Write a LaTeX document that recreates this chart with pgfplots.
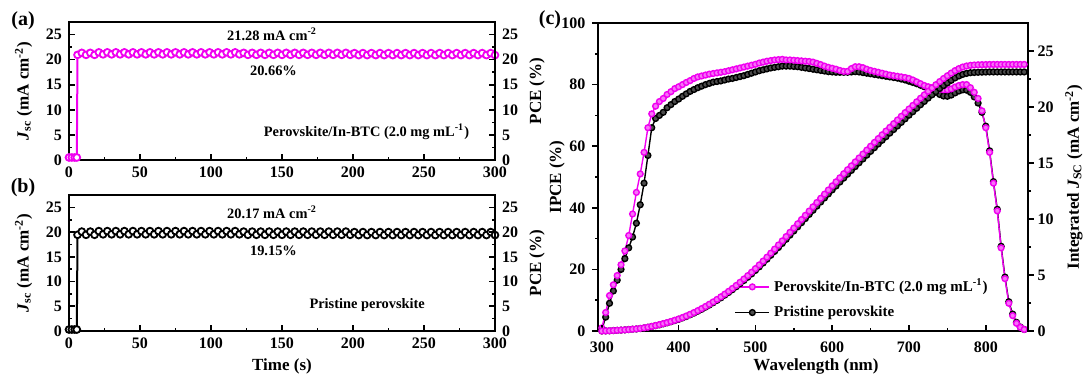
\documentclass[border=0pt]{standalone}
\usepackage{fontspec}
\setmainfont{Liberation Serif}
\usepackage{pgfplots}
\pgfplotsset{compat=1.18}
\definecolor{mag}{RGB}{240,0,240}
\pgfplotsset{
  mybase/.style={
    scale only axis,
    /pgf/number format/assume math mode=true,
    tick label style={font=\fontsize{8}{9}\selectfont\bfseries},
    label style={font=\fontsize{8.5}{10}\selectfont\bfseries},
    axis line style={line width=0.9pt},
    tick style={black, line width=0.8pt},
    major tick length=2.8pt,
    minor tick length=1.5pt,
  },
  jplot/.style={line width=1pt, mark=*, mark size=1.7pt, mark options={fill=white, line width=0.9pt}},
  cplot/.style={line width=0.7pt, mark=*, mark size=1.45pt},
}
\tikzset{annot/.style={font=\fontsize{7.2}{8}\selectfont\bfseries},
  lab/.style={font=\fontsize{8.5}{10}\selectfont\bfseries}}
\begin{document}
\begin{tikzpicture}
\useasboundingbox (0,0) rectangle (541.5pt,188pt);
% ---------------- panel (a)
\begin{axis}[mybase, at={(34.5pt,108pt)}, anchor=south west, width=213pt, height=69pt,
  xmin=0, xmax=300, ymin=0, ymax=27.5,
  xtick={0,50,...,300}, minor x tick num=1,
  ytick={0,5,...,25}, minor y tick num=1,
  xtick pos=bottom, ytick pos=left, tick align=inside,
  ylabel={\textit{J}\textsubscript{sc} (mA cm\textsuperscript{-2})}]
\addplot[jplot, color=mag] coordinates {
(0,0.5) (2,0.5) (4,0.5) (5.5,0.5) (6,20.95) (9,21.35) (12,20.95) (15,21.35) (18,20.95) (21,21.45) (24,21.05) (27,21.45) (30,21.05) (33,21.45) (36,21.05) (39,21.45) (42,21.05) (45,21.45) (48,21.05) (51,21.45) (54,21.05) (57,21.45) (60,21.05) (63,21.45) (66,21.05) (69,21.45) (72,21.05) (75,21.45) (78,21.05) (81,21.45) (84,21.05) (87,21.45) (90,21.05) (93,21.45) (96,21.05) (99,21.45) (102,21.05) (105,21.45) (108,21.05) (111,21.45) (114,21.05) (117,21.45) (120,21.05) (123,21.35) (126,20.95) (129,21.35) (132,20.95) (135,21.35) (138,20.95) (141,21.35) (144,20.95) (147,21.35) (150,20.95) (153,21.35) (156,20.95) (159,21.35) (162,20.95) (165,21.35) (168,20.95) (171,21.35) (174,20.95) (177,21.35) (180,20.95) (183,21.35) (186,20.95) (189,21.35) (192,20.95) (195,21.35) (198,20.95) (201,21.3) (204,20.9) (207,21.3) (210,20.9) (213,21.3) (216,20.9) (219,21.3) (222,20.9) (225,21.3) (228,20.9) (231,21.3) (234,20.9) (237,21.3) (240,20.9) (243,21.3) (246,20.9) (249,21.3) (252,20.9) (255,21.3) (258,20.9) (261,21.3) (264,20.9) (267,21.3) (270,20.9) (273,21.3) (276,20.9) (279,21.3) (282,20.9) (285,21.3) (288,20.9) (291,21.3) (294,20.9) (297,21.3) (300,20.9)
};
\node[annot] at (axis cs:143,25) {21.28 mA cm\textsuperscript{-2}};
\node[annot] at (axis cs:144,17.8) {20.66\%};
\node[annot] at (axis cs:209.5,5.6) {Perovskite/In-BTC (2.0 mg mL\textsuperscript{-1})};
\end{axis}
\begin{axis}[mybase, at={(34.5pt,108pt)}, anchor=south west, width=213pt, height=69pt,
  xmin=0, xmax=300, ymin=0, ymax=27.5,
  axis x line=none, axis y line*=right,
  ytick={0,5,...,25}, minor y tick num=1, tick align=inside]
\addplot[draw=none] coordinates {(0,0)};
\end{axis}
% ---------------- panel (b)
\begin{axis}[mybase, at={(34.5pt,22.5pt)}, anchor=south west, width=213pt, height=68pt,
  xmin=0, xmax=300, ymin=0, ymax=27.5,
  xtick={0,50,...,300}, minor x tick num=1,
  ytick={0,5,...,25}, minor y tick num=1,
  xtick pos=bottom, ytick pos=left, tick align=inside,
  ylabel={\textit{J}\textsubscript{sc} (mA cm\textsuperscript{-2})}]
\addplot[jplot, color=black] coordinates {
(0,0.3) (2,0.3) (4,0.3) (5.5,0.3) (6,19.45) (9,20.1) (12,19.45) (15,20.1) (18,19.45) (21,20.2) (24,19.55) (27,20.2) (30,19.55) (33,20.2) (36,19.55) (39,20.2) (42,19.55) (45,20.2) (48,19.55) (51,20.2) (54,19.55) (57,20.2) (60,19.55) (63,20.2) (66,19.55) (69,20.2) (72,19.55) (75,20.2) (78,19.55) (81,20.2) (84,19.55) (87,20.2) (90,19.55) (93,20.2) (96,19.55) (99,20.2) (102,19.55) (105,20.2) (108,19.55) (111,20.2) (114,19.55) (117,20.2) (120,19.55) (123,20.1) (126,19.45) (129,20.1) (132,19.45) (135,20.1) (138,19.45) (141,20.1) (144,19.45) (147,20.1) (150,19.45) (153,20.1) (156,19.45) (159,20.1) (162,19.45) (165,20.1) (168,19.45) (171,20.1) (174,19.45) (177,20.1) (180,19.45) (183,20.1) (186,19.45) (189,20.1) (192,19.45) (195,20.1) (198,19.45) (201,20.0) (204,19.4) (207,20.0) (210,19.4) (213,20.0) (216,19.4) (219,20.0) (222,19.4) (225,20.0) (228,19.4) (231,20.0) (234,19.4) (237,20.0) (240,19.4) (243,20.0) (246,19.4) (249,20.0) (252,19.4) (255,20.0) (258,19.4) (261,20.0) (264,19.4) (267,20.0) (270,19.4) (273,20.0) (276,19.4) (279,20.0) (282,19.4) (285,20.0) (288,19.4) (291,20.0) (294,19.4) (297,20.0) (300,19.4)
};
\node[annot] at (axis cs:143,24) {20.17 mA cm\textsuperscript{-2}};
\node[annot] at (axis cs:144,16.3) {19.15\%};
\node[annot] at (axis cs:210,5.2) {Pristine perovskite};
\end{axis}
\begin{axis}[mybase, at={(34.5pt,22.5pt)}, anchor=south west, width=213pt, height=68pt,
  xmin=0, xmax=300, ymin=0, ymax=27.5,
  axis x line=none, axis y line*=right,
  ytick={0,5,...,25}, minor y tick num=1, tick align=inside]
\addplot[draw=none] coordinates {(0,0)};
\end{axis}
% ---------------- panel (c): IPCE
\begin{axis}[mybase, at={(299pt,22.5pt)}, anchor=south west, width=215pt, height=154pt,
  xmin=295, xmax=855, ymin=0, ymax=100,
  xtick={300,400,...,800}, minor x tick num=0, xtick style={draw=none},
  xticklabel style={yshift=1pt},
  ytick={0,20,...,100}, minor y tick num=1,
  xtick pos=bottom, ytick pos=left, tick align=outside,
  reverse legend, legend cell align=left,
  legend style={draw=none, fill=none, at={(0.312,0.19)}, anchor=north west,
    font=\fontsize{7.5}{8.5}\selectfont\bfseries, row sep=1.5pt, inner sep=1pt}]
\addplot[cplot, color=black, mark options={fill=black!70, draw=black}] coordinates {
(300,0.5) (305,4.5) (310,9.0) (315,13.0) (320,16.5) (325,20.0) (330,23.5) (335,27.0) (340,30.5) (345,35.0) (350,41.0) (355,48.0) (360,57.0) (365,66.0) (370,69.0) (375,70.0) (380,71.0) (385,72.5) (390,73.5) (395,74.5) (400,75.3) (405,76.2) (410,77.0) (415,77.8) (420,78.4) (425,79.0) (430,79.5) (435,80.0) (440,80.4) (445,80.8) (450,81.0) (455,81.2) (460,81.5) (465,81.8) (470,82.0) (475,82.3) (480,82.6) (485,82.9) (490,83.3) (495,83.7) (500,84.1) (505,84.5) (510,84.8) (515,85.1) (520,85.4) (525,85.6) (530,85.8) (535,86.0) (540,86.0) (545,86.0) (550,85.9) (555,85.8) (560,85.6) (565,85.4) (570,85.2) (575,85.0) (580,84.8) (585,84.6) (590,84.4) (595,84.2) (600,84.1) (605,84.0) (610,84.0) (615,84.0) (620,84.0) (625,84.1) (630,84.2) (635,84.1) (640,83.9) (645,83.7) (650,83.5) (655,83.3) (660,83.1) (665,82.9) (670,82.7) (675,82.5) (680,82.3) (685,82.1) (690,81.8) (695,81.5) (700,81.1) (705,80.7) (710,80.3) (715,79.8) (720,79.3) (725,78.8) (730,78.2) (735,77.5) (740,76.8) (745,76.3) (750,76.2) (755,76.6) (760,77.3) (765,77.9) (770,78.3) (775,78.2) (780,77.5) (785,76.0) (790,74.0) (795,71.0) (800,66.5) (805,58.5) (810,48.5) (815,39.5) (820,27.5) (825,17.5) (830,9.5) (835,5.5) (840,2.8) (845,1.3) (850,0.5)
};
\addlegendentry{Pristine perovskite}
\addplot[cplot, color=mag, mark options={fill=mag!55!white, draw=mag}] coordinates {
(300,1.0) (305,6.0) (310,11.5) (315,15.0) (320,18.0) (325,21.5) (330,26.0) (335,31.0) (340,38.0) (345,45.0) (350,51.0) (355,58.0) (360,66.0) (365,70.5) (370,73.0) (375,74.5) (380,75.5) (385,76.8) (390,77.7) (395,78.7) (400,79.3) (405,80.0) (410,80.7) (415,81.3) (420,82.0) (425,82.5) (430,82.8) (435,83.1) (440,83.4) (445,83.6) (450,83.8) (455,84.0) (460,84.2) (465,84.5) (470,84.8) (475,85.1) (480,85.4) (485,85.7) (490,86.0) (495,86.3) (500,86.6) (505,87.0) (510,87.3) (515,87.6) (520,87.8) (525,88.0) (530,88.1) (535,88.2) (540,88.0) (545,88.0) (550,87.9) (555,87.8) (560,87.7) (565,87.6) (570,87.5) (575,87.3) (580,86.9) (585,86.5) (590,86.0) (595,85.6) (600,85.3) (605,85.0) (610,84.6) (615,84.3) (620,84.3) (625,85.2) (630,85.8) (635,85.8) (640,85.5) (645,85.0) (650,84.6) (655,84.3) (660,84.0) (665,83.7) (670,83.4) (675,83.1) (680,82.9) (685,82.7) (690,82.5) (695,82.3) (700,82.0) (705,81.5) (710,80.9) (715,80.3) (720,79.7) (725,79.3) (730,79.0) (735,78.8) (740,78.5) (745,78.3) (750,78.3) (755,78.6) (760,79.2) (765,79.7) (770,80.0) (775,80.0) (780,79.0) (785,77.5) (790,75.5) (795,71.5) (800,66.0) (805,58.0) (810,48.0) (815,39.0) (820,27.0) (825,17.0) (830,9.0) (835,5.0) (840,2.5) (845,1.2) (850,0.5)
};
\addlegendentry{Perovskite/In-BTC (2.0 mg mL\textsuperscript{-1})}
\end{axis}
% inside x ticks for panel (c)
\begin{axis}[mybase, at={(299pt,22.5pt)}, anchor=south west, width=215pt, height=154pt,
  xmin=295, xmax=855, ymin=0, ymax=100,
  xtick={300,400,...,800}, minor x tick num=1, xticklabels={}, ytick=\empty,
  xtick pos=bottom, tick align=inside, axis line style={draw=none}]
\addplot[draw=none] coordinates {(300,0)};
\end{axis}
% right axis: integrated Jsc
\begin{axis}[mybase, at={(299pt,22.5pt)}, anchor=south west, width=215pt, height=154pt,
  xmin=295, xmax=855, ymin=0, ymax=27.5,
  axis x line=none, axis y line*=right,
  ytick={0,5,...,25}, minor y tick num=1, tick align=outside,
  yticklabel style={xshift=-1.5pt}]
\addplot[cplot, color=black, mark options={fill=black!70, draw=black}] coordinates {
(300,0.00) (305,0.01) (310,0.02) (315,0.04) (320,0.06) (325,0.08) (330,0.10) (335,0.13) (340,0.16) (345,0.18) (350,0.22) (355,0.27) (360,0.33) (365,0.40) (370,0.48) (375,0.55) (380,0.64) (385,0.73) (390,0.83) (395,0.93) (400,1.04) (405,1.17) (410,1.30) (415,1.45) (420,1.60) (425,1.77) (430,1.94) (435,2.13) (440,2.32) (445,2.53) (450,2.74) (455,2.96) (460,3.20) (465,3.44) (470,3.69) (475,3.96) (480,4.23) (485,4.51) (490,4.80) (495,5.10) (500,5.41) (505,5.73) (510,6.07) (515,6.41) (520,6.76) (525,7.11) (530,7.46) (535,7.82) (540,8.19) (545,8.56) (550,8.93) (555,9.30) (560,9.67) (565,10.04) (570,10.41) (575,10.78) (580,11.15) (585,11.52) (590,11.88) (595,12.24) (600,12.60) (605,12.95) (610,13.30) (615,13.65) (620,14.00) (625,14.34) (630,14.68) (635,15.02) (640,15.36) (645,15.70) (650,16.04) (655,16.37) (660,16.70) (665,17.03) (670,17.35) (675,17.67) (680,17.99) (685,18.31) (690,18.63) (695,18.95) (700,19.27) (705,19.58) (710,19.89) (715,20.20) (720,20.50) (725,20.80) (730,21.09) (735,21.37) (740,21.65) (745,21.91) (750,22.15) (755,22.38) (760,22.60) (765,22.77) (770,22.91) (775,23.00) (780,23.06) (785,23.08) (790,23.10) (795,23.11) (800,23.12) (805,23.13) (810,23.13) (815,23.13) (820,23.13) (825,23.13) (830,23.13) (835,23.13) (840,23.13) (845,23.13) (850,23.13)
};
\addplot[cplot, color=mag, mark options={fill=mag!55!white, draw=mag}] coordinates {
(300,0.00) (305,0.01) (310,0.02) (315,0.04) (320,0.06) (325,0.08) (330,0.10) (335,0.13) (340,0.16) (345,0.19) (350,0.23) (355,0.28) (360,0.34) (365,0.41) (370,0.49) (375,0.57) (380,0.66) (385,0.75) (390,0.85) (395,0.96) (400,1.07) (405,1.20) (410,1.34) (415,1.49) (420,1.65) (425,1.82) (430,2.00) (435,2.19) (440,2.39) (445,2.60) (450,2.82) (455,3.05) (460,3.29) (465,3.54) (470,3.80) (475,4.07) (480,4.35) (485,4.64) (490,4.94) (495,5.25) (500,5.57) (505,5.90) (510,6.24) (515,6.59) (520,6.95) (525,7.31) (530,7.68) (535,8.05) (540,8.43) (545,8.81) (550,9.19) (555,9.57) (560,9.95) (565,10.33) (570,10.71) (575,11.09) (580,11.47) (585,11.85) (590,12.22) (595,12.59) (600,12.96) (605,13.32) (610,13.68) (615,14.04) (620,14.40) (625,14.75) (630,15.10) (635,15.45) (640,15.80) (645,16.15) (650,16.50) (655,16.84) (660,17.18) (665,17.52) (670,17.85) (675,18.18) (680,18.51) (685,18.84) (690,19.17) (695,19.50) (700,19.82) (705,20.14) (710,20.46) (715,20.78) (720,21.09) (725,21.40) (730,21.70) (735,21.99) (740,22.27) (745,22.54) (750,22.79) (755,23.03) (760,23.25) (765,23.43) (770,23.57) (775,23.66) (780,23.72) (785,23.75) (790,23.77) (795,23.78) (800,23.79) (805,23.80) (810,23.80) (815,23.80) (820,23.80) (825,23.80) (830,23.80) (835,23.80) (840,23.80) (845,23.80) (850,23.80)
};
\end{axis}
% axis labels placed explicitly
\node[lab, rotate=90] at (268.5pt,142.5pt) {PCE (\%)};
\node[lab, rotate=90] at (268.5pt,56.5pt) {PCE (\%)};
\node[lab, rotate=90] at (278.5pt,99.5pt) {IPCE (\%)};
\node[lab, rotate=90] at (537pt,99.5pt) {Integrated \textit{J}\textsubscript{SC} (mA cm\textsuperscript{-2})};
\node[lab] at (141pt,5pt) {Time (s)};
\node[lab] at (408pt,5pt) {Wavelength (nm)};
% panel letters
\node[font=\fontsize{10}{12}\selectfont\bfseries] at (11.5pt,177.5pt) {(a)};
\node[font=\fontsize{10}{12}\selectfont\bfseries] at (11.5pt,94pt) {(b)};
\node[font=\fontsize{10}{12}\selectfont\bfseries] at (275pt,178pt) {(c)};
\end{tikzpicture}
\end{document}
